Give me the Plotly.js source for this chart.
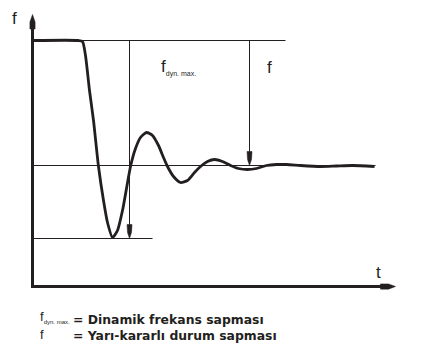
<!DOCTYPE html>
<html>
<head>
<meta charset="utf-8">
<script src="https://cdn.plot.ly/plotly-3.0.1.min.js"></script>
<style>html,body{margin:0;padding:0;background:#fff;}#chart{width:439px;height:352px;}</style>
</head>
<body>
<div id="chart"></div>
<script>
// Time (arbitrary units) and frequency (Hz)
var time = [0, 4.6, 5.0, 5.3, 5.7, 6.1, 6.6, 7.1, 7.5, 8.0, 8.5, 9.0, 9.4, 9.8, 10.3, 10.8, 11.4, 12.0, 12.6, 13.1, 13.5, 14.1, 14.8, 15.5, 16.2, 16.8, 17.5, 18.2, 19.0, 19.8, 20.6, 21.5, 22.4, 23.4, 24.4, 25.4, 26.8, 28.8, 30.4, 32.0, 34.2];
var freq = [50.000, 50.000, 49.996, 49.940, 49.800, 49.680, 49.496, 49.360, 49.272, 49.212, 49.240, 49.320, 49.408, 49.496, 49.568, 49.612, 49.632, 49.620, 49.580, 49.532, 49.496, 49.456, 49.432, 49.440, 49.472, 49.496, 49.516, 49.524, 49.516, 49.500, 49.488, 49.484, 49.488, 49.500, 49.504, 49.504, 49.500, 49.496, 49.498, 49.500, 49.496];

var fNominal = 50.0;      // initial frequency
var fSteady = 49.5;       // quasi-steady frequency
var fMin = 49.208;        // dynamic minimum
var tDynArrow = 9.7;
var tSteadyArrow = 21.7;
var fAxisBase = 49.016;
var fAxisTop = 50.104;
var tAxisEnd = 36.3;
var tTopLineEnd = 25.3;
var tBaseLineEnd = 34.3;
var tMinLineEnd = 12.0;

var labels = {
  yAxis: 'f',
  xAxis: 't',
  steady: 'f',
  sub: 'dyn. max.',
  legend1: '= Dinamik frekans sapması',
  legend2: '= Yarı-kararlı durum sapması'
};

var ink = '#231f20';

var traces = [{
  x: time, y: freq, type: 'scatter', mode: 'lines',
  line: {color: ink, width: 2.8, shape: 'spline', smoothing: 0.6},
  hoverinfo: 'skip'
}];

function hline(y, x0, x1, w) {
  return {type: 'line', xref: 'x', yref: 'y', x0: x0, x1: x1, y0: y, y1: y, line: {color: ink, width: w}};
}
function vline(x, y0, y1, w) {
  return {type: 'line', xref: 'x', yref: 'y', x0: x, x1: x, y0: y0, y1: y1, line: {color: ink, width: w}};
}
function poly(pts) {
  var d = 'M' + pts.map(function (p) { return p[0] + ',' + p[1]; }).join(' L') + ' Z';
  return {type: 'path', xref: 'x', yref: 'y', path: d, fillcolor: ink, line: {color: ink, width: 0.5}};
}
// narrow downward arrowhead with tip at (t, f)
function downHead(t, f) {
  return poly([[t, f], [t - 0.2, f + 0.024], [t - 0.25, f + 0.056], [t + 0.25, f + 0.056], [t + 0.2, f + 0.024]]);
}

var shapes = [
  hline(fNominal, 0, tTopLineEnd, 1),
  hline(fSteady, 0, tBaseLineEnd, 1),
  hline(fMin, 0, tMinLineEnd, 1),
  vline(tDynArrow, fNominal, fMin + 0.03, 1),
  vline(tSteadyArrow, fNominal, fSteady + 0.03, 1),
  downHead(tDynArrow, fMin),
  downHead(tSteadyArrow, fSteady),
  vline(0, fAxisBase - 0.006, fAxisTop - 0.02, 3),
  hline(fAxisBase, -0.15, tAxisEnd - 0.6, 3),
  // y axis arrow tip
  poly([[0, fAxisTop], [0.26, fAxisTop - 0.03], [0.26, fAxisTop - 0.058], [-0.26, fAxisTop - 0.058], [-0.26, fAxisTop - 0.03]]),
  // x axis arrow tip
  poly([[tAxisEnd, fAxisBase], [tAxisEnd - 0.7, fAxisBase + 0.0105], [tAxisEnd - 1.5, fAxisBase + 0.0105], [tAxisEnd - 1.5, fAxisBase - 0.0105], [tAxisEnd - 0.7, fAxisBase - 0.0105]])
];

function ptext(txt, px, py, size, family) {
  return {text: txt, xref: 'paper', yref: 'paper', x: px / 439, y: 1 - py / 352,
    xanchor: 'left', yanchor: 'middle', showarrow: false, align: 'left',
    font: {family: family || 'Liberation Sans, Arial, sans-serif', size: size, color: ink}};
}
function fsub(size) {
  return 'f<sub><span style="font-size:' + size + 'px;color:' + ink + '">' + labels.sub + '</span></sub>';
}

var bold = 'DejaVu Sans, Verdana, sans-serif';
var annotations = [
  ptext(labels.yAxis, 10, 18, 17),
  ptext(labels.xAxis, 374, 272, 17),
  ptext(fsub(7), 159, 68, 17),
  ptext(labels.steady, 265, 68, 17),
  ptext(fsub(6), 38, 317, 13),
  ptext(labels.steady, 38, 334, 13),
  ptext('<b>' + labels.legend1 + '<br>' + labels.legend2 + '</b>', 71, 327.5, 12.4, bold)
];

var layout = {
  width: 439, height: 352,
  margin: {l: 0, r: 0, t: 0, b: 0},
  paper_bgcolor: '#fff', plot_bgcolor: '#fff',
  showlegend: false,
  xaxis: {range: [-3.25, 40.65], visible: false, fixedrange: true},
  yaxis: {range: [48.754, 50.162], visible: false, fixedrange: true},
  shapes: shapes,
  annotations: annotations
};

Plotly.newPlot('chart', traces, layout, {staticPlot: true, displayModeBar: false});
</script>
</body>
</html>
